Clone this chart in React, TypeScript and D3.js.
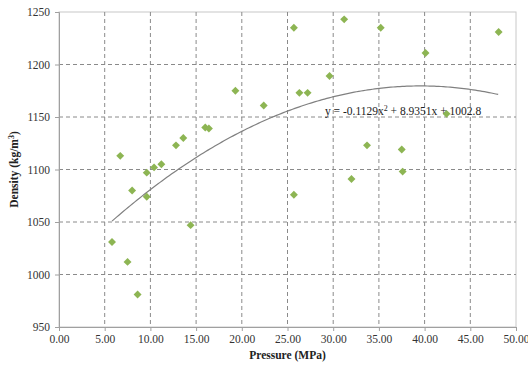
import { useEffect, useRef } from 'react';
import * as d3 from 'd3';

// pressure (MPa) and density (kg/m3)
const pressure = [
  5.8, 6.7, 7.5, 8.0, 8.6, 9.6, 9.6, 10.4, 11.2, 12.8, 13.6, 14.4, 16.0, 16.4, 19.3, 22.4,
  25.7, 25.7, 26.3, 27.2, 29.6, 31.2, 32.0, 33.7, 35.2, 37.5, 37.6, 40.1, 42.4, 48.1,
];
const density = [
  1031, 1113, 1012, 1080, 981, 1097, 1074, 1102, 1105, 1123, 1130, 1047, 1140, 1139, 1175, 1161,
  1235, 1076, 1173, 1173, 1189, 1243, 1091, 1123, 1235, 1119, 1098, 1211, 1153, 1231,
];
const xTicks = [0, 5, 10, 15, 20, 25, 30, 35, 40, 45, 50];
const yTicks = [950, 1000, 1050, 1100, 1150, 1200, 1250];
const coef = { a: -0.1129, b: 8.9351, c: 1002.8 };

const width = 528;
const height = 365;

export default function App() {
  const svgRef = useRef<SVGSVGElement>(null);

  useEffect(() => {
    if (!svgRef.current) return;
    const margin = { top: 12, right: 12, bottom: 38, left: 59 };
    const innerWidth = width - margin.left - margin.right;
    const innerHeight = height - margin.top - margin.bottom;

    const svg = d3.select(svgRef.current);
    svg.selectAll('*').remove();
    const g = svg.append('g').attr('transform', `translate(${margin.left},${margin.top})`);

    const x = d3.scaleLinear().domain([0, 50]).range([0, innerWidth]);
    const y = d3.scaleLinear().domain([950, 1250]).range([innerHeight, 0]);

    // plot frame
    g.append('rect')
      .attr('width', innerWidth)
      .attr('height', innerHeight)
      .attr('fill', 'none')
      .attr('stroke', '#c8c8c8')
      .attr('stroke-width', 1);

    // grid
    g.selectAll('.vgrid')
      .data(xTicks.slice(1, -1))
      .join('line')
      .attr('x1', (d) => x(d))
      .attr('x2', (d) => x(d))
      .attr('y1', 0)
      .attr('y2', innerHeight)
      .attr('stroke', '#8a8a8a')
      .attr('stroke-dasharray', '4,3');
    g.selectAll('.hgrid')
      .data(yTicks.slice(1, -1))
      .join('line')
      .attr('x1', 0)
      .attr('x2', innerWidth)
      .attr('y1', (d) => y(d))
      .attr('y2', (d) => y(d))
      .attr('stroke', '#8a8a8a')
      .attr('stroke-dasharray', '4,3');

    // axes
    const xAxis = g
      .append('g')
      .attr('transform', `translate(0,${innerHeight})`)
      .call(d3.axisBottom(x).tickValues(xTicks).tickSize(4).tickFormat((d) => d3.format('.2f')(d as number)));
    const yAxis = g.append('g').call(d3.axisLeft(y).tickValues(yTicks).tickSize(4).tickFormat(d3.format('d')));
    [xAxis, yAxis].forEach((ax) => {
      ax.select('.domain').attr('stroke', '#a0a0a0');
      ax.selectAll('.tick line').attr('stroke', '#a0a0a0');
      ax.selectAll('.tick text')
        .attr('fill', '#333')
        .style('font-family', '"Liberation Serif", "Times New Roman", serif')
        .style('font-size', '11.5px');
    });
    xAxis.selectAll('.tick text').attr('dy', '0.95em').attr('y', 5);
    yAxis.selectAll('.tick text').attr('x', -9);

    // trendline
    const [xmin, xmax] = d3.extent(pressure) as [number, number];
    const curve = d3.range(xmin, xmax + 0.01, 0.25).map((p) => [p, coef.a * p * p + coef.b * p + coef.c]);
    g.append('path')
      .attr('d', d3.line<number[]>().x((d) => x(d[0])).y((d) => y(d[1]))(curve))
      .attr('fill', 'none')
      .attr('stroke', '#808080')
      .attr('stroke-width', 1.2);

    // points
    const diamond = d3.symbol().type(d3.symbolDiamond2).size(40);
    g.selectAll('.pt')
      .data(pressure.map((p, i) => [p, density[i]]))
      .join('path')
      .attr('d', diamond)
      .attr('transform', (d) => `translate(${x(d[0])},${y(d[1])})`)
      .attr('fill', '#8db553');

    // equation
    g.append('text')
      .attr('x', x(29.1))
      .attr('y', y(1152))
      .style('font-family', '"Liberation Serif", "Times New Roman", serif')
      .style('font-size', '11.5px')
      .attr('fill', '#222')
      .html('y = -0.1129x<tspan dy="-4" font-size="8">2</tspan><tspan dy="4"> + 8.9351x + 1002.8</tspan>');

    // axis titles
    svg.append('text')
      .attr('x', margin.left + innerWidth / 2)
      .attr('y', 359)
      .attr('text-anchor', 'middle')
      .style('font-family', '"Liberation Serif", "Times New Roman", serif')
      .style('font-size', '11.5px')
      .style('font-weight', 'bold')
      .attr('fill', '#222')
      .text('Pressure (MPa)');
    svg.append('text')
      .attr('transform', `translate(18,${margin.top + innerHeight / 2}) rotate(-90)`)
      .attr('text-anchor', 'middle')
      .style('font-family', '"Liberation Serif", "Times New Roman", serif')
      .style('font-size', '11.5px')
      .style('font-weight', 'bold')
      .attr('fill', '#222')
      .html('Density (kg/m<tspan dy="-4" font-size="8">3</tspan><tspan dy="4">)</tspan>');
  }, []);

  return (
    <svg
      ref={svgRef}
      width={width}
      height={height}
      style={{ position: 'absolute', left: 0, top: 0, background: '#fff' }}
    ></svg>
  );
}
